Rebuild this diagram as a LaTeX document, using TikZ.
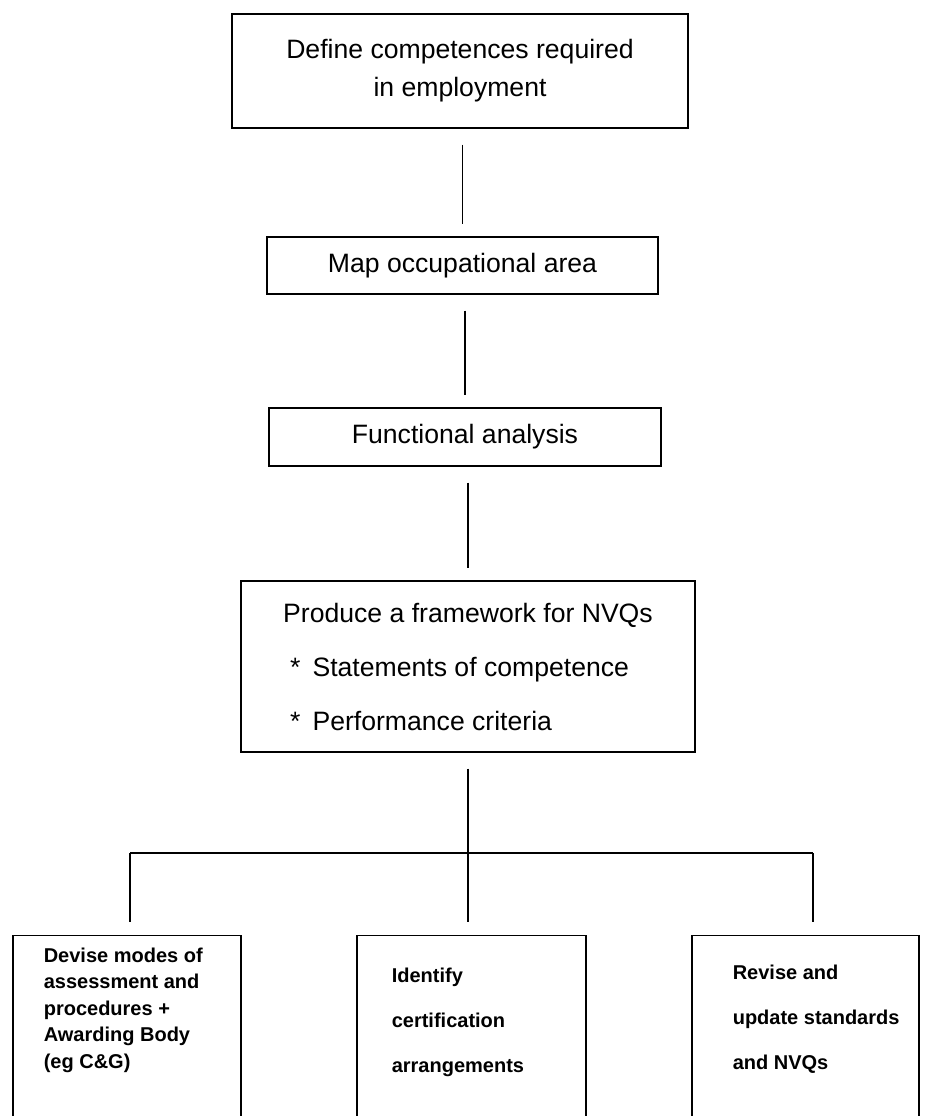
\documentclass[tikz,border=0pt]{standalone}
\usepackage{fontspec}
\setmainfont{Liberation Sans}

\begin{document}
\begin{tikzpicture}[x=0.5pt,y=-0.5pt,
  box/.style={draw,line width=0.6pt,inner sep=0pt,font=\fontsize{13.3}{19}\selectfont},
  leaf/.style={draw,line width=0.6pt,anchor=north,minimum height=100pt},
  leaftext/.style={anchor=base west,align=left,inner sep=0pt},
  link/.style={line width=0.6pt,shorten <=8pt,shorten >=6pt}]
\useasboundingbox (0,0) rectangle (927,1116);
\begin{scope}
  \clip (0,0) rectangle (927,1116);
  % main chain
  \node[box,minimum width=228pt,minimum height=57pt,align=center] (define) at (460,71) {Define competences required\\in employment};
  \node[box,minimum width=195.5pt,minimum height=28.5pt] (map) at (462.5,265.5) {Map occupational area};
  \node[box,minimum width=196pt,minimum height=29pt] (func) at (465,437) {Functional analysis};
  \node[box,minimum width=227pt,minimum height=85.5pt,align=left,font=\fontsize{13.3}{27}\selectfont] (nvq) at (468,666.5)
    {Produce a framework for NVQs\\\hspace*{3.5pt}*\hspace{6pt}Statements of competence\\\hspace*{3.5pt}*\hspace{6pt}Performance criteria};
  \draw[link] (map.north |- define.south) -- (map.north);
  \draw[link] (func.north |- map.south) -- (func.north);
  \draw[link] (nvq.north |- func.south) -- (nvq.north);
  % the three branches
  \node[leaf,minimum width=114pt] (assess) at (127,935) {};
  \node[leaf,minimum width=114.5pt] (cert) at (471.5,935) {};
  \node[leaf,minimum width=113.5pt] (revise) at (805.5,935) {};
  % base = last line of each text
  \node[leaftext,font=\bfseries\fontsize{10}{13.25}\selectfont] (assesstext) at ([xshift=15.5pt,yshift=-66.5pt]assess.north west)
    {Devise modes of\\assessment and\\procedures +\\Awarding Body\\(eg C\&G)};
  \node[leaftext,font=\bfseries\fontsize{10}{22.5}\selectfont] (certtext) at ([xshift=17.5pt,yshift=-68.5pt]cert.north west)
    {Identify\\certification\\arrangements};
  \node[leaftext,font=\bfseries\fontsize{10}{22.5}\selectfont] (revisetext) at ([xshift=20.5pt,yshift=-67pt]revise.north west)
    {Revise and\\update standards\\and NVQs};
  \coordinate (busL) at (130,853);
  \coordinate (busR) at (813,853);
  \draw[link,shorten >=0pt] (nvq.south) -- (nvq.south |- busL);
  \draw[line width=0.6pt] (busL) -- (busR);
  \draw[link,shorten <=0pt,shorten >=6.5pt] (busL) -- (busL |- assess.north);
  \draw[link,shorten <=0pt,shorten >=6.5pt] (nvq.south |- busL) -- (nvq.south |- cert.north);
  \draw[link,shorten <=0pt,shorten >=6.5pt] (busR) -- (busR |- revise.north);
\end{scope}
\end{tikzpicture}
\end{document}
